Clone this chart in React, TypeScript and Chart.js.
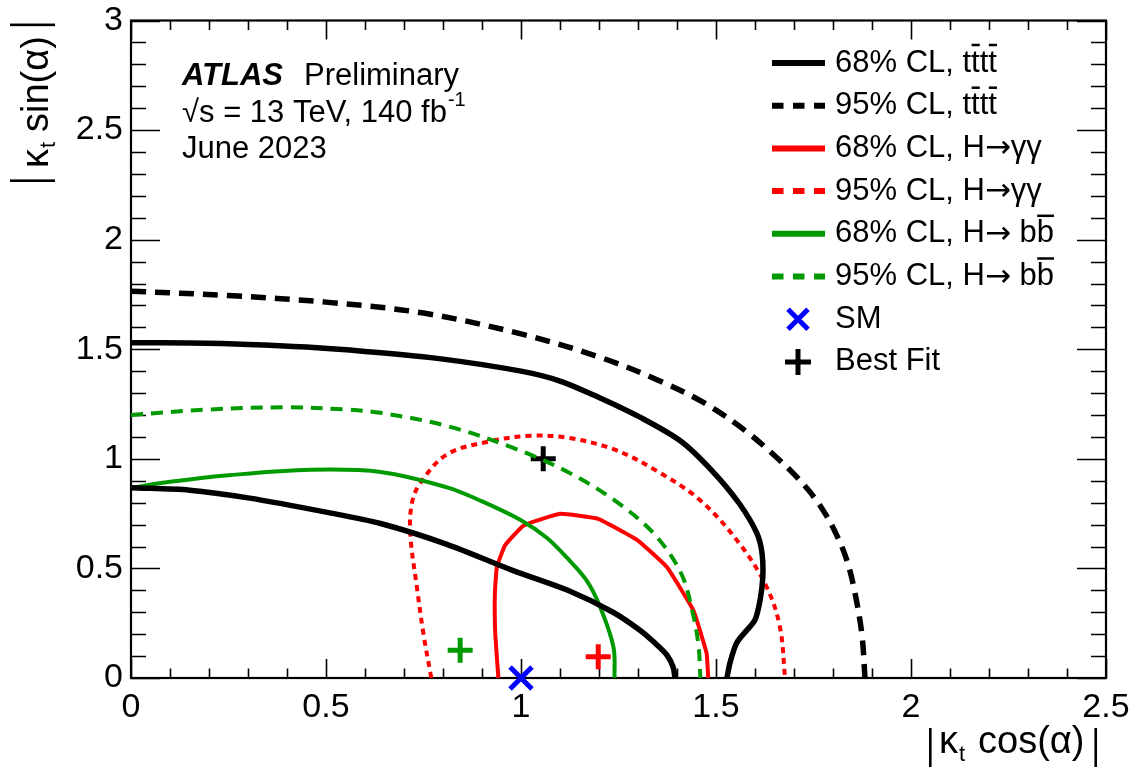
import React, { useEffect, useRef } from 'react';
import { Chart, registerables } from 'chart.js';

Chart.register(...registerables);

const FONT = "'Liberation Sans', Arial, Helvetica, sans-serif";
const ARROW_FONT = "'DejaVu Sans', sans-serif";

// ---- axes ----
const xTicks = [0, 0.5, 1, 1.5, 2, 2.5];
const xTickLabels = ['0', '0.5', '1', '1.5', '2', '2.5'];
const yTicks = [0, 0.5, 1, 1.5, 2, 2.5, 3];
const yTickLabels = ['0', '0.5', '1', '1.5', '2', '2.5', '3'];

// ---- contours ----
// 68% CL tttt (outer branch)
const tttt68OuterX = [0, 0.15, 0.3, 0.45, 0.6, 0.8, 1.0, 1.1, 1.2, 1.305, 1.41, 1.49, 1.56, 1.605, 1.618, 1.62, 1.613, 1.6, 1.58, 1.553, 1.536, 1.528];
const tttt68OuterY = [1.53, 1.528, 1.522, 1.51, 1.49, 1.455, 1.4, 1.355, 1.28, 1.19, 1.08, 0.945, 0.795, 0.66, 0.57, 0.46, 0.355, 0.265, 0.22, 0.16, 0.07, 0];
// 68% CL tttt (inner branch)
const tttt68InnerX = [0, 0.15, 0.3, 0.5, 0.64, 0.81, 0.98, 1.12, 1.236, 1.305, 1.34, 1.374, 1.39, 1.395];
const tttt68InnerY = [0.868, 0.857, 0.822, 0.757, 0.705, 0.61, 0.49, 0.4, 0.3, 0.218, 0.165, 0.105, 0.05, 0];
// 95% CL tttt
const tttt95X = [0, 0.25, 0.5, 0.75, 1.0, 1.2, 1.35, 1.47, 1.574, 1.647, 1.7, 1.745, 1.78, 1.81, 1.835, 1.855, 1.874, 1.882];
const tttt95Y = [1.765, 1.745, 1.715, 1.665, 1.57, 1.465, 1.36, 1.255, 1.13, 1.02, 0.93, 0.84, 0.75, 0.65, 0.54, 0.4, 0.2, 0];
// 68% CL H->yy
const hgg68X = [0.942, 0.934, 0.933, 0.938, 0.959, 1.006, 1.1, 1.198, 1.3, 1.374, 1.442, 1.476, 1.48];
const hgg68Y = [0, 0.2, 0.385, 0.506, 0.605, 0.695, 0.749, 0.726, 0.627, 0.506, 0.309, 0.112, 0];
// 95% CL H->yy
const hgg95X = [0.77, 0.75, 0.733, 0.716, 0.72, 0.74, 0.81, 0.92, 1.023, 1.117, 1.237, 1.348, 1.46, 1.56, 1.63, 1.664, 1.677];
const hgg95Y = [0, 0.2, 0.415, 0.66, 0.795, 0.885, 1.02, 1.08, 1.105, 1.097, 1.044, 0.945, 0.81, 0.614, 0.415, 0.232, 0];
// 68% CL H->bb
const hbb68X = [0, 0.1, 0.25, 0.46, 0.64, 0.81, 0.895, 1.0, 1.066, 1.117, 1.168, 1.203, 1.237, 1.24];
const hbb68Y = [0.868, 0.895, 0.925, 0.95, 0.94, 0.87, 0.81, 0.72, 0.64, 0.55, 0.445, 0.324, 0.142, 0];
// 95% CL H->bb
const hbb95X = [0, 0.2, 0.4, 0.55, 0.64, 0.81, 0.98, 1.12, 1.24, 1.34, 1.41, 1.44, 1.455, 1.46];
const hbb95Y = [1.2, 1.225, 1.235, 1.225, 1.21, 1.15, 1.05, 0.94, 0.81, 0.66, 0.48, 0.3, 0.15, 0];

// ---- points ----
const smX = [1];
const smY = [0];
const bestFitTtttX = [1.057];
const bestFitTtttY = [1.0];
const bestFitHggX = [1.198];
const bestFitHggY = [0.097];
const bestFitHbbX = [0.844];
const bestFitHbbY = [0.127];

// ---- texts ----
const legendLabels = [
  '68% CL, tt\u0304tt\u0304',
  '95% CL, tt\u0304tt\u0304',
  '68% CL, H\u2192\u03b3\u03b3',
  '95% CL, H\u2192\u03b3\u03b3',
  '68% CL, H\u2192 bb\u0304',
  '95% CL, H\u2192 bb\u0304',
  'SM',
  'Best Fit',
];
const legendKinds = ['line', 'line', 'line', 'line', 'line', 'line', 'x', 'plus'];
const legendColors = ['#000000', '#000000', '#ff0000', '#ff0000', '#009a00', '#009a00', '#0000ff', '#000000'];
const legendDashed = [false, true, false, true, false, true, false, false];

const BLACK = '#000000';
const RED = '#ff0000';
const GREEN = '#009a00';
const BLUE = '#0000ff';

const zip = (xs: number[], ys: number[]) => xs.map((x, i) => ({ x, y: ys[i] }));

function drawRich(ctx: CanvasRenderingContext2D, s: string, x: number, y: number, barDy: number, size: number) {
  const chars = Array.from(s);
  let cx = x;
  let run = '';
  const baseFont = `${size}px ${FONT}`;
  ctx.font = baseFont;
  const flush = () => {
    if (run) {
      ctx.fillText(run, cx, y);
      cx += ctx.measureText(run).width;
      run = '';
    }
  };
  for (let i = 0; i < chars.length; i++) {
    const ch = chars[i];
    if (ch === '\u0304') continue;
    if (ch === '\u2192') {
      flush();
      ctx.font = `${size}px ${ARROW_FONT}`;
      ctx.fillText(ch, cx, y + 1);
      cx += ctx.measureText(ch).width;
      ctx.font = baseFont;
    } else if (chars[i + 1] === '\u0304') {
      flush();
      ctx.fillText(ch, cx, y);
      const w = ctx.measureText(ch).width;
      ctx.fillRect(cx + 0.5, y - barDy - 1.25, w - 0.5, 2.5);
      cx += w;
    } else {
      run += ch;
    }
  }
  flush();
}

const atlasPlugin = {
  id: 'atlasDecor',
  beforeDatasetsDraw(chart: any) {
    const ctx: CanvasRenderingContext2D = chart.ctx;
    const { left, right, top, bottom } = chart.chartArea;
    const xs = chart.scales.x;
    const ys = chart.scales.y;
    ctx.save();
    ctx.strokeStyle = '#000';
    ctx.lineWidth = 1.6;
    ctx.beginPath();
    for (let i = 0; i <= 25; i++) {
      const px = Math.round(xs.getPixelForValue(i / 10)) + 0.5;
      const L = i % 5 === 0 ? 19 : 9.5;
      ctx.moveTo(px, bottom);
      ctx.lineTo(px, bottom - L);
      ctx.moveTo(px, top);
      ctx.lineTo(px, top + L);
    }
    for (let i = 0; i <= 30; i++) {
      const py = Math.round(ys.getPixelForValue(i / 10)) + 0.5;
      const L = i % 5 === 0 ? 29 : 15;
      ctx.moveTo(left, py);
      ctx.lineTo(left + L, py);
      ctx.moveTo(right, py);
      ctx.lineTo(right - L, py);
    }
    ctx.stroke();
    ctx.lineWidth = 2.2;
    ctx.strokeRect(left, top, right - left, bottom - top);
    ctx.restore();
  },
  afterDraw(chart: any) {
    const ctx: CanvasRenderingContext2D = chart.ctx;
    ctx.save();
    ctx.fillStyle = '#000';
    ctx.textAlign = 'left';
    ctx.textBaseline = 'alphabetic';

    // ATLAS label
    ctx.font = `italic bold 31px ${FONT}`;
    ctx.fillText('ATLAS', 182, 85);
    ctx.font = `31px ${FONT}`;
    ctx.fillText('Preliminary', 304, 85);
    const l2 = '\u221as = 13 TeV, 140 fb';
    ctx.fillText(l2, 182, 122);
    const w2 = ctx.measureText(l2).width;
    ctx.font = `20px ${FONT}`;
    ctx.fillText('-1', 182 + w2 + 1, 106);
    ctx.font = `31px ${FONT}`;
    ctx.fillText('June 2023', 182, 158);

    // x axis title |kt cos(a)|
    ctx.font = `38px ${FONT}`;
    const bx = 753;
    ctx.fillRect(929, 728, 2.6, 39);
    ctx.fillText('\u03ba', 939, bx);
    const wk = ctx.measureText('\u03ba').width;
    ctx.font = `22px ${FONT}`;
    ctx.fillText('t', 939 + wk + 1, bx + 8);
    ctx.font = `38px ${FONT}`;
    ctx.fillText('cos(\u03b1)', 978, bx);
    const wc = ctx.measureText('cos(\u03b1)').width;
    ctx.fillRect(978 + wc + 10, 728, 2.6, 39);

    // y axis title |kt sin(a)|
    ctx.save();
    ctx.translate(48, 182);
    ctx.rotate(-Math.PI / 2);
    ctx.fillRect(0, -38, 2.6, 45);
    ctx.font = `38px ${FONT}`;
    ctx.fillText('\u03ba', 14, 0);
    const wk2 = ctx.measureText('\u03ba').width;
    ctx.font = `22px ${FONT}`;
    ctx.fillText('t', 14 + wk2 + 1, 7);
    ctx.font = `38px ${FONT}`;
    ctx.fillText('sin(\u03b1)', 50, 0);
    const ws = ctx.measureText('sin(\u03b1)').width;
    ctx.fillRect(50 + ws + 10, -38, 2.6, 45);
    ctx.restore();

    // legend
    const y0 = 63;
    const dy = 42.7;
    for (let i = 0; i < legendLabels.length; i++) {
      const y = y0 + i * dy;
      const col = legendColors[i];
      ctx.strokeStyle = col;
      ctx.fillStyle = col;
      if (legendKinds[i] === 'line') {
        ctx.lineWidth = 6;
        ctx.lineCap = 'butt';
        ctx.setLineDash(legendDashed[i] ? [11.5, 9.5] : []);
        ctx.beginPath();
        ctx.moveTo(772, y);
        ctx.lineTo(825, y);
        ctx.stroke();
        ctx.setLineDash([]);
      } else if (legendKinds[i] === 'x') {
        ctx.lineWidth = 5;
        ctx.beginPath();
        ctx.moveTo(788, y - 10);
        ctx.lineTo(808, y + 10);
        ctx.moveTo(808, y - 10);
        ctx.lineTo(788, y + 10);
        ctx.stroke();
      } else {
        ctx.lineWidth = 5;
        ctx.beginPath();
        ctx.moveTo(785, y);
        ctx.lineTo(811, y);
        ctx.moveTo(798, y - 13);
        ctx.lineTo(798, y + 13);
        ctx.stroke();
      }
      ctx.fillStyle = '#000';
      ctx.textBaseline = 'middle';
      drawRich(ctx, legendLabels[i], 835, y, 18, 31);
      ctx.textBaseline = 'alphabetic';
    }
    ctx.restore();
  },
};

function lineDs(xs: number[], ys: number[], color: string, width: number, dash: number[], tension: number) {
  return {
    data: zip(xs, ys),
    showLine: true,
    borderColor: color,
    backgroundColor: color,
    borderWidth: width,
    borderDash: dash,
    borderCapStyle: 'butt',
    borderJoinStyle: 'round',
    pointRadius: 0,
    pointHoverRadius: 0,
    fill: false,
    tension,
  };
}

function markerDs(xs: number[], ys: number[], color: string, style: string, radius: number) {
  return {
    data: zip(xs, ys),
    showLine: false,
    pointStyle: style,
    pointRadius: radius,
    pointHoverRadius: radius,
    pointBorderWidth: 5,
    pointHoverBorderWidth: 5,
    borderColor: color,
    backgroundColor: color,
    clip: false,
  };
}

export default function App() {
  const ref = useRef<HTMLCanvasElement | null>(null);
  useEffect(() => {
    if (!ref.current) return;
    const chart = new Chart(ref.current, {
      type: 'scatter',
      data: {
        datasets: [
          lineDs(tttt95X, tttt95Y, BLACK, 5.5, [15, 9], 0.35),
          lineDs(tttt68OuterX, tttt68OuterY, BLACK, 5.5, [], 0.3),
          lineDs(tttt68InnerX, tttt68InnerY, BLACK, 5.5, [], 0.3),
          lineDs(hbb95X, hbb95Y, GREEN, 4, [12, 8], 0.35),
          lineDs(hbb68X, hbb68Y, GREEN, 4, [], 0.35),
          lineDs(hgg95X, hgg95Y, RED, 4, [6, 5], 0.35),
          lineDs(hgg68X, hgg68Y, RED, 4, [], 0.1),
          markerDs(bestFitHbbX, bestFitHbbY, GREEN, 'cross', 12.5),
          markerDs(bestFitHggX, bestFitHggY, RED, 'cross', 12.5),
          markerDs(bestFitTtttX, bestFitTtttY, BLACK, 'cross', 12.5),
          markerDs(smX, smY, BLUE, 'crossRot', 15.5),
        ] as any,
      },
      options: {
        responsive: false,
        animation: false,
        devicePixelRatio: 1,
        events: [],
        layout: { padding: { left: 0, right: 35, top: 18, bottom: 0 } },
        plugins: { legend: { display: false }, tooltip: { enabled: false }, title: { display: false } },
        scales: {
          x: {
            type: 'linear',
            min: 0,
            max: 2.5,
            afterBuildTicks: (s: any) => {
              s.ticks = xTicks.map((v) => ({ value: v }));
            },
            afterFit: (s: any) => {
              s.height = 92;
              s.paddingLeft = 0;
              s.paddingRight = 0;
            },
            grid: { display: false, drawTicks: false },
            border: { display: false },
            ticks: {
              autoSkip: false,
              maxRotation: 0,
              padding: 9,
              color: '#000',
              font: { family: FONT, size: 34 },
              callback: (v: any) => xTickLabels[xTicks.indexOf(Number(v))] ?? '',
            },
          },
          y: {
            type: 'linear',
            min: 0,
            max: 3,
            afterBuildTicks: (s: any) => {
              s.ticks = yTicks.map((v) => ({ value: v }));
            },
            afterFit: (s: any) => {
              s.width = 131;
              s.paddingTop = 0;
              s.paddingBottom = 0;
            },
            grid: { display: false, drawTicks: false },
            border: { display: false },
            ticks: {
              autoSkip: false,
              padding: 8,
              color: '#000',
              font: { family: FONT, size: 34 },
              callback: (v: any) => yTickLabels[yTicks.indexOf(Number(v))] ?? '',
            },
          },
        },
      } as any,
      plugins: [atlasPlugin as any],
    });
    return () => chart.destroy();
  }, []);
  return (
    <div style={{ position: 'fixed', left: 0, top: 0, width: 1141, height: 770, background: '#fff' }}>
      <canvas ref={ref} width={1141} height={770} style={{ width: 1141, height: 770, display: 'block' }} />
    </div>
  );
}
